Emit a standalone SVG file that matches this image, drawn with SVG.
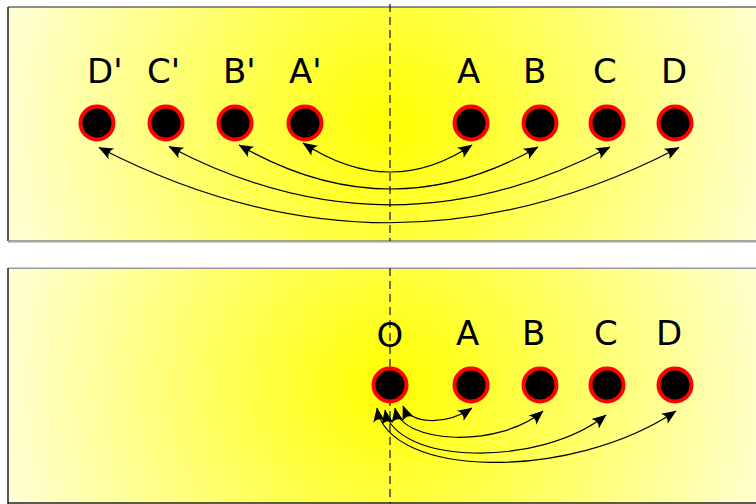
<svg xmlns="http://www.w3.org/2000/svg" width="756" height="504" viewBox="0 0 756 504">
  <defs>
    <radialGradient id="gTop" gradientUnits="userSpaceOnUse" cx="390" cy="124" r="400">
      <stop offset="0" stop-color="#ffff00"/>
      <stop offset="1" stop-color="#ffffd8"/>
    </radialGradient>
    <radialGradient id="gBot" gradientUnits="userSpaceOnUse" cx="390" cy="385" r="400">
      <stop offset="0" stop-color="#ffff00"/>
      <stop offset="1" stop-color="#ffffd8"/>
    </radialGradient>
    <marker id="arr" markerUnits="userSpaceOnUse" markerWidth="18" markerHeight="14" viewBox="-15 -7 16 14" refX="0" refY="0" orient="auto-start-reverse">
      <path d="M0.5,0 L-14,-6 Q-9,0 -14,6 Z" fill="#000"/>
    </marker>
  </defs>
  <style>
    .node circle { fill: #000; stroke: #ff0000; stroke-width: 4; }
    .lbl { font-family: "DejaVu Sans", sans-serif; font-size: 34px; fill: #000; }
    .conn path { fill: none; stroke: #000; stroke-width: 1.2; marker-start: url(#arr); marker-end: url(#arr); }
    .axis { stroke: #222; stroke-width: 1.3; stroke-dasharray: 8 5; }
  </style>
  <rect width="756" height="504" fill="#fff"/>
  <g id="panel-top">
    <rect x="8" y="7" width="760" height="234" fill="url(#gTop)"/>
    <line x1="8" y1="7" x2="756" y2="7" stroke="#222" stroke-width="1.2"/>
    <line x1="8" y1="7" x2="8" y2="241" stroke="#222" stroke-width="1.5"/>
    <line x1="8" y1="241" x2="756" y2="241" stroke="#888" stroke-width="1.5"/>
    <line x1="8" y1="242.5" x2="756" y2="242.5" stroke="#ccc" stroke-width="1"/>
  </g>
  <g id="panel-bottom">
    <rect x="8" y="268" width="760" height="235" fill="url(#gBot)"/>
    <line x1="8" y1="267.5" x2="756" y2="267.5" stroke="#ccc" stroke-width="1"/>
    <line x1="8" y1="268.5" x2="756" y2="268.5" stroke="#999" stroke-width="1.2"/>
    <line x1="8" y1="268" x2="8" y2="504" stroke="#222" stroke-width="1.5"/>
    <line x1="8" y1="503" x2="756" y2="503" stroke="#222" stroke-width="1.5"/>
  </g>
  <line class="axis" x1="390" y1="4" x2="390" y2="241"/>
  <line class="axis" x1="390" y1="268" x2="390" y2="504"/>

  <g id="t-Dp" class="node"><circle cx="97" cy="123" r="16.5"/><text class="lbl" x="87" y="83">D'</text></g>
  <g id="t-Cp" class="node"><circle cx="166" cy="123" r="16.5"/><text class="lbl" x="147" y="83">C'</text></g>
  <g id="t-Bp" class="node"><circle cx="235" cy="123" r="16.5"/><text class="lbl" x="223" y="83">B'</text></g>
  <g id="t-Ap" class="node"><circle cx="305" cy="123" r="16.5"/><text class="lbl" x="289" y="83">A'</text></g>
  <g id="t-A" class="node"><circle cx="471" cy="123" r="16.5"/><text class="lbl" x="457" y="83">A</text></g>
  <g id="t-B" class="node"><circle cx="540" cy="123" r="16.5"/><text class="lbl" x="523" y="83">B</text></g>
  <g id="t-C" class="node"><circle cx="607" cy="123" r="16.5"/><text class="lbl" x="593" y="83">C</text></g>
  <g id="t-D" class="node"><circle cx="675" cy="123" r="16.5"/><text class="lbl" x="661" y="83">D</text></g>

  <g id="b-O" class="node"><circle cx="390" cy="385" r="16.5"/><text class="lbl" x="390" y="347" text-anchor="middle">O</text></g>
  <g id="b-A" class="node"><circle cx="471" cy="385" r="16.5"/><text class="lbl" x="456" y="345">A</text></g>
  <g id="b-B" class="node"><circle cx="540" cy="385" r="16.5"/><text class="lbl" x="522" y="345">B</text></g>
  <g id="b-C" class="node"><circle cx="607" cy="385" r="16.5"/><text class="lbl" x="594" y="345">C</text></g>
  <g id="b-D" class="node"><circle cx="675" cy="385" r="16.5"/><text class="lbl" x="656" y="345">D</text></g>

  <g id="connectors" class="conn">
    <path d="M303,143 Q390,200 472,145"/>
    <path d="M239,145 Q390,232 538,147"/>
    <path d="M169,146.5 Q390,263 610,147"/>
    <path d="M99,147.5 Q390,298 679,147.5"/>
    <path d="M403,406 C410,424 445,426 472,408"/>
    <path d="M395,408 C402,445 500,448 543,411"/>
    <path d="M385,410 C395,465 540,468 606,415"/>
    <path d="M377,408 C388,478 570,482 676,411"/>
  </g>
</svg>
